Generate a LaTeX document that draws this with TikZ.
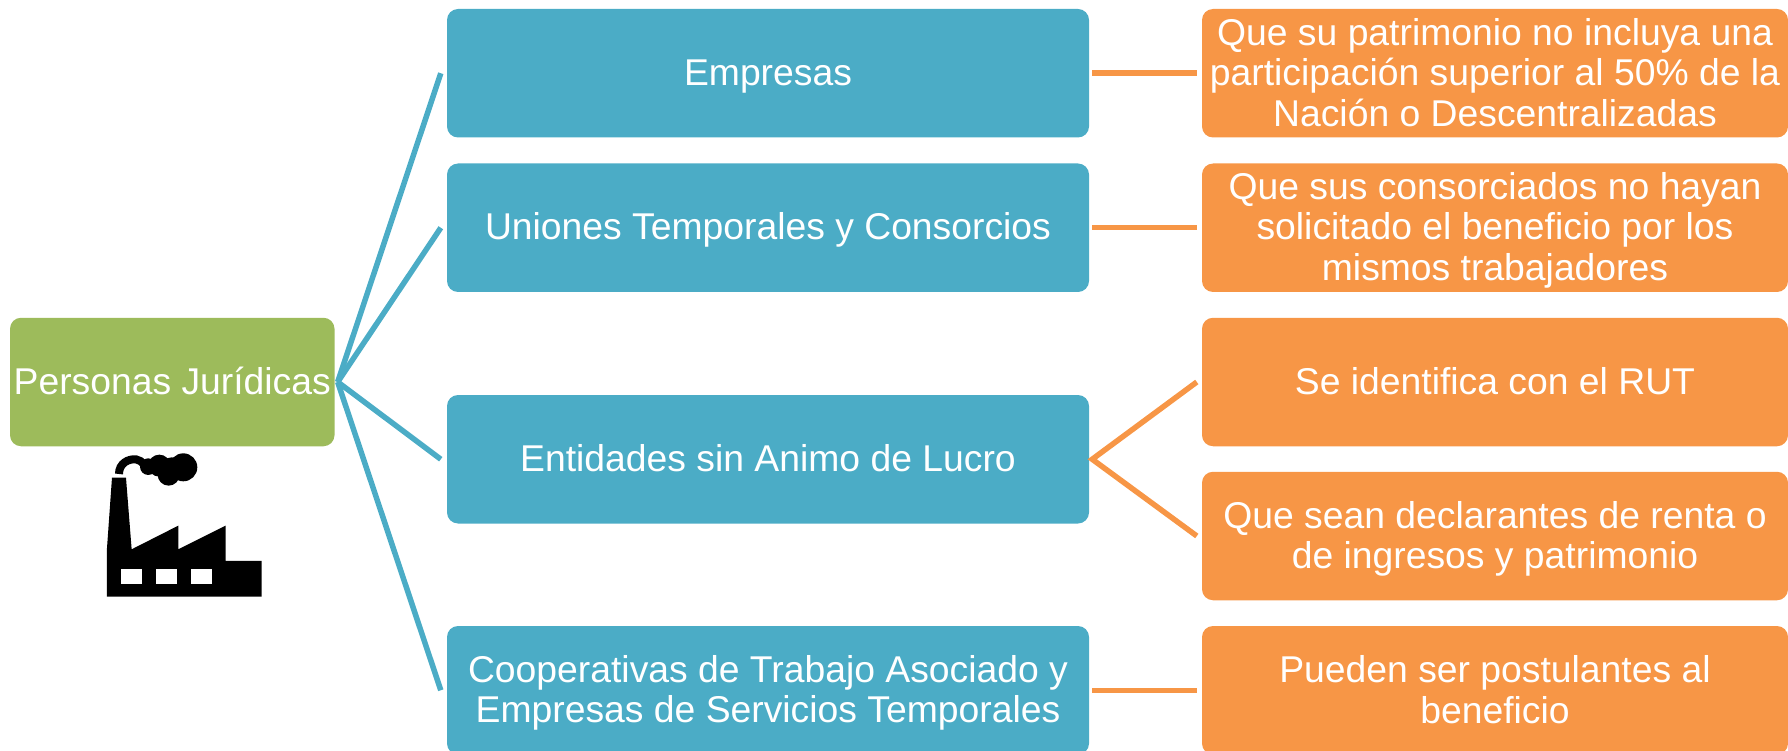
\documentclass[tikz,border=0pt]{standalone}
\usepackage{fontspec}
\setmainfont{Liberation Sans}
\definecolor{cgreen}{HTML}{9DBB5B}
\definecolor{cblue}{HTML}{4BACC6}
\definecolor{corange}{HTML}{F79646}
\newcommand{\Ls}{\rule[-7pt]{0pt}{39pt}}
\tikzset{
  box/.style={rectangle,rounded corners=11pt,inner sep=0pt,align=center,text=white,
    minimum height=128.5pt,font=\fontsize{37.3}{39}\selectfont},
  rootbox/.style={box,fill=cgreen,minimum width=324.5pt},
  midbox/.style={box,fill=cblue,minimum width=642pt},
  leafbox/.style={box,fill=corange,minimum width=586pt},
  bluelink/.style={draw=cblue,line width=5.5pt},
  orangelink/.style={draw=corange,line width=5.5pt},
}
\begin{document}
\begin{tikzpicture}[x=1pt,y=-1pt]
\useasboundingbox (0,0) rectangle (1788,751);
\clip (0,0) rectangle (1788,751);
\node[rootbox] (root) at (172.25,382) {\Ls Personas Jurídicas};
\node[midbox] (m1) at (768,73.25) {\Ls Empresas};
\node[midbox] (m2) at (768,227.75) {\Ls Uniones Temporales y Consorcios};
\node[midbox] (m3) at (768,459.25) {\Ls Entidades sin Animo de Lucro};
\node[midbox] (m4) at (768,690.25) {\Ls Cooperativas de Trabajo Asociado y\\\Ls Empresas de Servicios Temporales};
\node[leafbox] (l1) at (1495,73.25) {\Ls Que su patrimonio no incluya una\\\Ls participación superior al 50\% de la\\\Ls Nación o Descentralizadas};
\node[leafbox] (l2) at (1495,227.75) {\Ls Que sus consorciados no hayan\\\Ls solicitado el beneficio por los\\\Ls mismos trabajadores};
\node[leafbox] (l3) at (1495,382) {\Ls Se identifica con el RUT};
\node[leafbox] (l4) at (1495,536) {\Ls Que sean declarantes de renta o\\\Ls de ingresos y patrimonio};
\node[leafbox] (l5) at (1495,690.25) {\Ls Pueden ser postulantes al\\\Ls beneficio};
% connector ports
\coordinate (rp) at ([xshift=3pt]root.east);
\foreach \n in {1,2,3,4}{
  \coordinate (mi\n) at ([xshift=-6pt]m\n.west);
  \coordinate (mo\n) at ([xshift=3pt]m\n.east);
}
\foreach \n in {1,2,3,4,5}{
  \coordinate (li\n) at ([xshift=-5pt]l\n.west);
}
\foreach \n in {1,2,3,4}{ \draw[bluelink] (rp) -- (mi\n); }
\draw[orangelink] (mo1) -- (li1);
\draw[orangelink] (mo2) -- (li2);
\draw[orangelink] (li3) -- (mo3) -- (li4);
\draw[orangelink] (mo4) -- (li5);
% factory icon
\begin{scope}[x=0.3333pt,y=-0.3333pt,yshift=-300pt]
\fill[black] (321,890) -- (321,745) -- (336,533) -- (378,533) -- (395,748) -- (535,677) -- (535,748) -- (677,677) -- (677,783) -- (785,783) -- (785,890) -- cycle;
\fill[white] (362,806) rectangle (426,853);
\fill[white] (467,806) rectangle (531,853);
\fill[white] (572,806) rectangle (636,853);
\draw[black,line width=8pt] (357,522) .. controls (357,490) and (385,476) .. (408,478) .. controls (428,480) and (435,505) .. (465,512);
\fill[black] (445,500) circle [radius=25];
\fill[black] (478,497) circle [radius=33];
\fill[black] (515,505) circle [radius=33];
\fill[black] (506,524) circle [radius=33];
\fill[black] (550,502) circle [radius=42];
\end{scope}
\end{tikzpicture}
\end{document}
